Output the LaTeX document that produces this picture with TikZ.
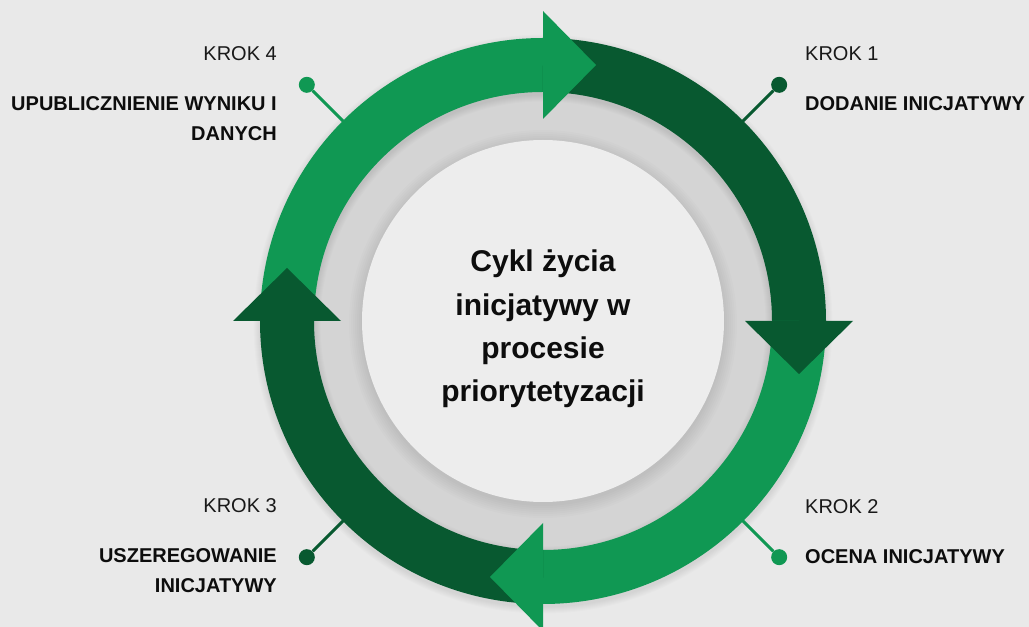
\documentclass[tikz,border=0pt]{standalone}
\usepackage{fontspec}
\setmainfont{Liberation Sans}
\usetikzlibrary{positioning,calc}
\definecolor{stepgreen}{HTML}{109853}
\definecolor{stepdark}{HTML}{085930}
\definecolor{backgray}{HTML}{E9E9E9}
\definecolor{ringgray}{HTML}{D4D4D4}
\definecolor{innergray}{HTML}{EDEDED}
\tikzstyle{band}=[line width=54pt]
\tikzstyle{steplabel}=[inner sep=0pt, text=black!90, font=\fontsize{20pt}{24pt}\selectfont]
\tikzstyle{stepname}=[inner sep=0pt, text=black!95, font=\fontsize{20pt}{29.5pt}\selectfont\bfseries]
\tikzstyle{centertext}=[inner sep=0pt, align=center, text=black!95, font=\fontsize{30pt}{43.3pt}\selectfont\bfseries]
\tikzstyle{dotgreen}=[circle, fill=stepgreen, minimum size=16pt, inner sep=0pt]
\tikzstyle{dotdark}=[circle, fill=stepdark, minimum size=16pt, inner sep=0pt]
\tikzstyle{leader}=[line width=3pt]
\tikzstyle{softshade}=[black, opacity=0.012]

\begin{document}
\begin{tikzpicture}[x=1pt, y=1pt]
        \fill[backgray] (0,0) rectangle (1029,627);
        \useasboundingbox (0,0) rectangle (1029,627);
        \coordinate (c) at (543,306);

        % Rings
        \fill[ringgray] (c) circle [radius=232pt];
        \foreach \r in {182,184,...,194}
            \fill[softshade] ($(c)+(0,-3)$) circle [radius=\r pt];
        \fill[innergray] (c) circle [radius=181pt];
        \foreach \w in {55,57,...,67}
            \draw[softshade, line width=\w pt] ($(c)+(0,-3)$) circle [radius=256pt];

        % Leaders
        \node (dot1) [dotdark] at ($(c)+(45:334)$) {};
        \node (dot2) [dotgreen] at ($(c)+(-45:334)$) {};
        \node (dot3) [dotdark] at ($(c)+(225:334)$) {};
        \node (dot4) [dotgreen] at ($(c)+(135:334)$) {};
        \coordinate (ring1) at ($(c)+(45:270)$);
        \coordinate (ring2) at ($(c)+(-45:270)$);
        \coordinate (ring3) at ($(c)+(225:270)$);
        \coordinate (ring4) at ($(c)+(135:270)$);
        \draw[leader, stepdark] (dot1) -- (ring1);
        \draw[leader, stepgreen] (dot2) -- (ring2);
        \draw[leader, stepdark] (dot3) -- (ring3);
        \draw[leader, stepgreen] (dot4) -- (ring4);

        % Arrow bands
        \draw[band, stepgreen] ($(c)+(180:256)$) arc [start angle=180, end angle=90, radius=256pt];
        \draw[band, stepdark] ($(c)+(90:256)$) arc [start angle=90, end angle=0, radius=256pt];
        \draw[band, stepgreen] ($(c)+(0:256)$) arc [start angle=360, end angle=270, radius=256pt];
        \draw[band, stepdark] ($(c)+(270:256)$) arc [start angle=270, end angle=180, radius=256pt];

        % Arrow heads
        \fill[stepgreen] ($(c)+(90:202)$) -- ($(c)+(90:310)$) -- ($(c)+(90:256)+(0:53)$) -- cycle;
        \fill[stepdark] ($(c)+(0:202)$) -- ($(c)+(0:310)$) -- ($(c)+(0:256)+(-90:53)$) -- cycle;
        \fill[stepgreen] ($(c)+(270:202)$) -- ($(c)+(270:310)$) -- ($(c)+(270:256)+(180:53)$) -- cycle;
        \fill[stepdark] ($(c)+(180:202)$) -- ($(c)+(180:310)$) -- ($(c)+(180:256)+(90:53)$) -- cycle;

        % Steps
        \node (krok1) [steplabel, anchor=base west] at (805,566) {KROK 1};
        \node (name1) [stepname, below right=35pt and 0pt of krok1.south west] {DODANIE INICJATYWY};
        \node (krok2) [steplabel, anchor=base west] at (805,113) {KROK 2};
        \node (name2) [stepname, below right=35pt and 0pt of krok2.south west] {OCENA INICJATYWY};
        \node (krok3) [steplabel, anchor=base east] at (277,114) {KROK 3};
        \node (name3) [stepname, align=right, below left=35pt and 0pt of krok3.south east] {USZEREGOWANIE\\INICJATYWY};
        \node (krok4) [steplabel, anchor=base east] at (277,566) {KROK 4};
        \node (name4) [stepname, align=right, below left=35pt and 0pt of krok4.south east] {UPUBLICZNIENIE WYNIKU I\\DANYCH};

        % Centre
        \node (lifecycle) [centertext] at (543,298) {Cykl życia\\inicjatywy w\\procesie\\priorytetyzacji};
\end{tikzpicture}
\end{document}
